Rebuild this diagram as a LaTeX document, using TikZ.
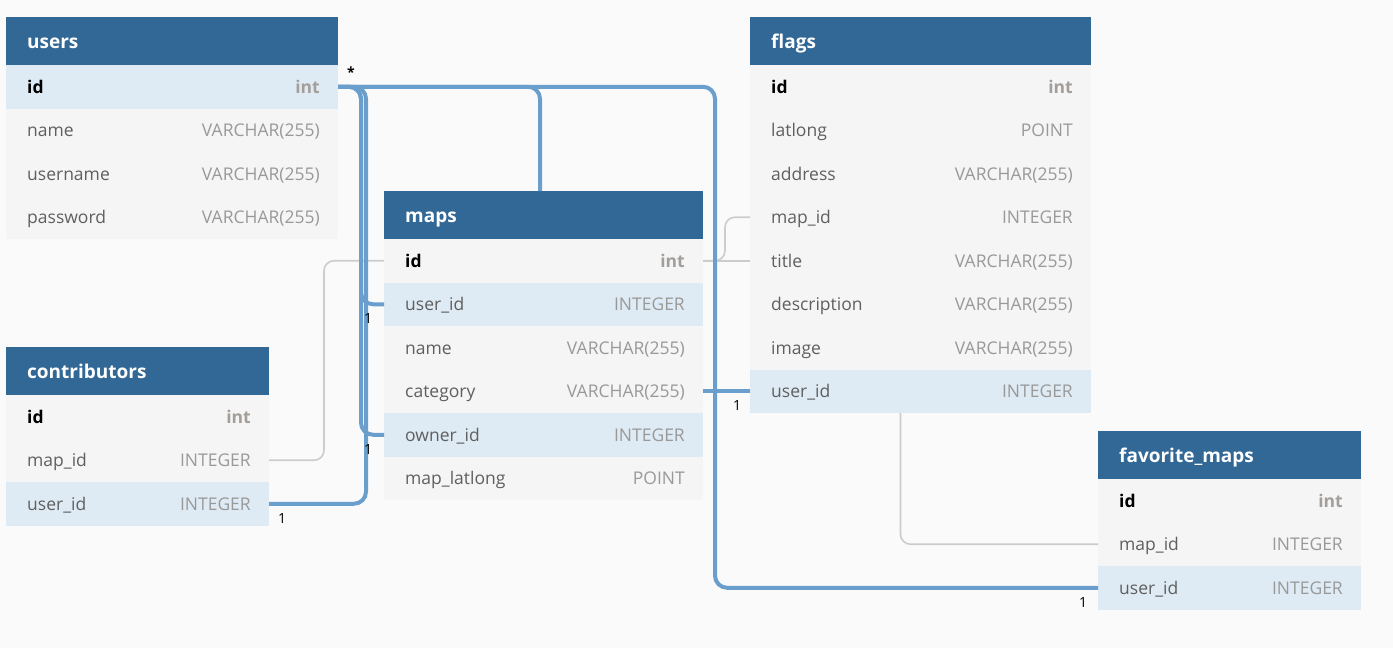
\documentclass[tikz,border=0pt]{standalone}
\usepackage{fontspec}
\setmainfont{Open Sans}
\definecolor{bgc}{HTML}{FAFAFA}
\definecolor{hdrc}{HTML}{316896}
\definecolor{rowc}{HTML}{F5F5F5}
\definecolor{hlc}{HTML}{DEEBF4}
\definecolor{fieldc}{HTML}{5F5F5F}
\definecolor{typec}{HTML}{999999}
\definecolor{keytypec}{HTML}{A39E99}
\definecolor{bluec}{HTML}{6A9FCD}
\definecolor{grayc}{HTML}{CCCCCC}
\newcommand\erHead[5]{%
  \node[hdr, minimum width=#4pt] (#1) at (#2,#3) {};
  \node[hdrtxt] (#1-txt) at ([xshift=21pt,yshift=-7.3pt]#1.west) {#5};
}
\newcommand\erRow[7]{%
  \node[rowbox, #5, minimum width=#4pt] (#1) at (#2,#3) {};
  \node[fieldtxt] (#1-f) at ([xshift=21pt,yshift=-6.5pt]#1.west) {#6};
  \node[typetxt] (#1-t) at ([xshift=-18pt,yshift=-6.5pt]#1.east) {#7};
}
\newcommand\erKey[5]{%
  \node[rowbox, #5, minimum width=#4pt] (#1) at (#2,#3) {};
  \node[keytxt] (#1-f) at ([xshift=21pt,yshift=-6.5pt]#1.west) {id};
  \node[keytypetxt] (#1-t) at ([xshift=-18pt,yshift=-6.5pt]#1.east) {int};
}
\begin{document}
\begin{tikzpicture}[x=1pt,y=-1pt,
  hdr/.style={fill=hdrc, draw=none, minimum height=48pt, anchor=north west, inner sep=0pt, outer sep=0pt},
  rowbox/.style={draw=none, minimum height=43.5pt, anchor=north west, inner sep=0pt, outer sep=0pt},
  plain/.style={fill=rowc},
  hl/.style={fill=hlc},
  hdrtxt/.style={font=\fontsize{19pt}{22pt}\selectfont\bfseries, text=white, anchor=base west, inner sep=0pt},
  fieldtxt/.style={font=\fontsize{17.5pt}{21pt}\selectfont, text=fieldc, anchor=base west, inner sep=0pt},
  typetxt/.style={font=\fontsize{17.5pt}{21pt}\selectfont, text=typec, anchor=base east, inner sep=0pt},
  keytxt/.style={font=\fontsize{17.5pt}{21pt}\selectfont\bfseries, text=black, anchor=base west, inner sep=0pt},
  keytypetxt/.style={font=\fontsize{17.5pt}{21pt}\selectfont\bfseries, text=keytypec, anchor=base east, inner sep=0pt},
  bl/.style={draw=bluec, line width=4pt, rounded corners=12pt},
  gr/.style={draw=grayc, line width=1.6pt, rounded corners=10pt},
  card/.style={font=\fontsize{14pt}{16pt}\selectfont, text=black, inner sep=0pt}
]
\useasboundingbox[fill=bgc] (0,0) rectangle (1393,648);

% users
\erHead{users}{6}{17}{332}{users}
\erKey{users-id}{6}{65}{332}{hl}
\erRow{users-name}{6}{108.5}{332}{plain}{name}{VARCHAR(255)}
\erRow{users-uname}{6}{152}{332}{plain}{username}{VARCHAR(255)}
\erRow{users-pw}{6}{195.5}{332}{plain}{password}{VARCHAR(255)}

% maps
\erHead{maps}{384}{191}{319}{maps}
\erKey{maps-id}{384}{239}{319}{plain}
\erRow{maps-user}{384}{282.5}{319}{hl}{user\_id}{INTEGER}
\erRow{maps-name}{384}{326}{319}{plain}{name}{VARCHAR(255)}
\erRow{maps-cat}{384}{369.5}{319}{plain}{category}{VARCHAR(255)}
\erRow{maps-owner}{384}{413}{319}{hl}{owner\_id}{INTEGER}
\erRow{maps-ll}{384}{456.5}{319}{plain}{map\_latlong}{POINT}

% flags
\erHead{flags}{750}{17}{341}{flags}
\erKey{flags-id}{750}{65}{341}{plain}
\erRow{flags-ll}{750}{108.5}{341}{plain}{latlong}{POINT}
\erRow{flags-addr}{750}{152}{341}{plain}{address}{VARCHAR(255)}
\erRow{flags-map}{750}{195.5}{341}{plain}{map\_id}{INTEGER}
\erRow{flags-title}{750}{239}{341}{plain}{title}{VARCHAR(255)}
\erRow{flags-desc}{750}{282.5}{341}{plain}{description}{VARCHAR(255)}
\erRow{flags-img}{750}{326}{341}{plain}{image}{VARCHAR(255)}
\erRow{flags-user}{750}{369.5}{341}{hl}{user\_id}{INTEGER}

% contributors
\erHead{contrib}{6}{347}{263}{contributors}
\erKey{contrib-id}{6}{395}{263}{plain}
\erRow{contrib-map}{6}{438.5}{263}{plain}{map\_id}{INTEGER}
\erRow{contrib-user}{6}{482}{263}{hl}{user\_id}{INTEGER}

% favorite_maps
\erHead{fav}{1098}{431}{263}{favorite\_maps}
\erKey{fav-id}{1098}{479}{263}{plain}
\erRow{fav-map}{1098}{522.5}{263}{plain}{map\_id}{INTEGER}
\erRow{fav-user}{1098}{566}{263}{hl}{user\_id}{INTEGER}

% gray connectors
\draw[gr] (contrib-map.east) -| ([xshift=-60pt]maps-id.west) -- (maps-id.west);
\draw[gr] (maps-id.east) -- (flags-title.west);
\draw[gr] (maps-id.east) -- ++(22,0) |- (flags-map.west);
\draw[gr] ([xshift=-20pt]flags-user.south) |- (fav-map.west);

% blue connectors
\draw[bl] (users-id.east) -- ++(23,0) |- (maps-user.west);
\draw[bl] (users-id.east) -- ++(23,0) |- (maps-owner.west);
\draw[bl] (contrib-user.east) -| ([xshift=28pt]users-id.east) -- (users-id.east);
\draw[bl] (users-id.east) -| ([xshift=-3.5pt]maps.north);
\draw[bl] (users-id.east) -| ([xshift=12pt]maps-cat.east) |- (fav-user.west);
\draw[bl, rounded corners=0pt] (maps-cat.east) -- (flags-user.west);

% cardinality labels
\node[card, font=\fontsize{14pt}{16pt}\selectfont\bfseries] (c-star) at ([xshift=13pt,yshift=15pt]users-id.east) {*};
\node[card] (c-mu) at ([xshift=-16pt,yshift=-14pt]maps-user.west) {1};
\node[card] (c-mo) at ([xshift=-16pt,yshift=-15pt]maps-owner.west) {1};
\node[card] (c-cu) at ([xshift=13pt,yshift=-15pt]contrib-user.east) {1};
\node[card] (c-fu) at ([xshift=-13pt,yshift=-14pt]flags-user.west) {1};
\node[card] (c-fav) at ([xshift=-15pt,yshift=-15pt]fav-user.west) {1};
\end{tikzpicture}
\end{document}
